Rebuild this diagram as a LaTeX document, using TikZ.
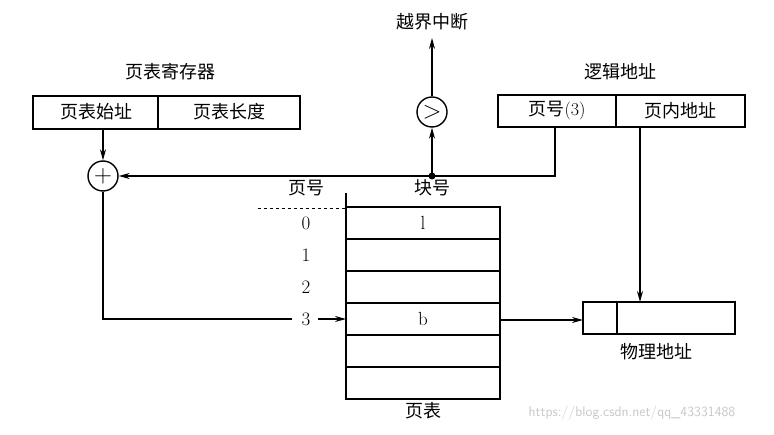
\documentclass[tikz,border=0pt]{standalone}
\usepackage{fontspec}
\newfontfamily\cjk{Noto Sans CJK SC}
\usetikzlibrary{arrows.meta}
\tikzset{
  lbl/.style={font=\cjk\fontsize{18}{18}\selectfont, inner sep=0pt},
  num/.style={font=\fontsize{19}{19}\selectfont, inner sep=0pt},
  op/.style={circle, draw, line width=1.4pt, minimum size=30pt, inner sep=0pt, font=\fontsize{24}{24}\selectfont},
  arr/.style={-{Stealth[length=11pt,width=6pt]}, line width=1.4pt},
  box/.style={draw, line width=1.4pt}
}
\begin{document}
\begin{tikzpicture}[x=1pt,y=-1pt,line width=1.4pt]
\useasboundingbox (0,0) rectangle (774,435);
% register
\node[lbl] (regl) at (170,72) {页表寄存器};
\draw[box] (33,96) rectangle (300,129);
\draw (158,96) -- (158,129);
\node[lbl] (base) at (96,112) {页表始址};
\node[lbl] (len) at (229,112) {页表长度};
% logical address
\node[lbl] (logl) at (620,72) {逻辑地址};
\draw[box] (498,95) rectangle (745,127);
\draw (616,95) -- (616,127);
\node[lbl] (pno) at (557,111) {页号\fontspec{Latin Modern Roman}(3)};
\node[lbl] (off) at (680,111) {页内地址};
% comparator and adder
\node[op] (cmp) at (432,112) {$>$};
\node[lbl] (intr) at (432,22) {越界中断};
\coordinate (intrend) at (432,38);
\node[op] (add) at (103,176) {$+$};
\coordinate (dot) at (432,176);
\coordinate (pcorner) at (555,176);
\draw[arr] (cmp.north) -- (intrend);
\draw[arr] (103,129) -- (add.north);
\draw[arr] (555,127) -- (pcorner) -- (add.east);
\fill (dot) circle (3.5pt);
\draw[arr] (dot) -- (cmp.south);
% page table
\node[lbl] (pgh) at (306,188) {页号};
\node[lbl] (blkh) at (432,188) {块号};
\draw (346,193) -- (346,207);
\draw[dashed, line width=0.8pt] (258,208) -- (346,208);
\foreach \i in {0,...,5}
  \draw[box] (346,207+32*\i) rectangle (500,239+32*\i);
\foreach \i in {0,...,3}
  \node[num] (r\i) at (306,223+32*\i) {\i};
\node[num] (c0) at (423,223) {l};
\node[num] (c3) at (423,319) {b};
\node[lbl] (tbl) at (423,411) {页表};
\draw (add.south) |- (292,319);
\draw[arr] (318,319) -- (346,319);
% physical address
\draw[box] (583,302) rectangle (735,334);
\draw (617,302) -- (617,334);
\coordinate (phys) at (583,320);
\draw[arr] (500,320) -- (phys);
\draw[arr] (640,127) -- (640,302);
\node[lbl] (physl) at (656,352) {物理地址};
\node[font=\sffamily\fontsize{14}{14}\selectfont, text=black!22, inner sep=0pt] (wm) at (632,413) {https://blog.csdn.net/qq\_43331488};
\end{tikzpicture}
\end{document}
